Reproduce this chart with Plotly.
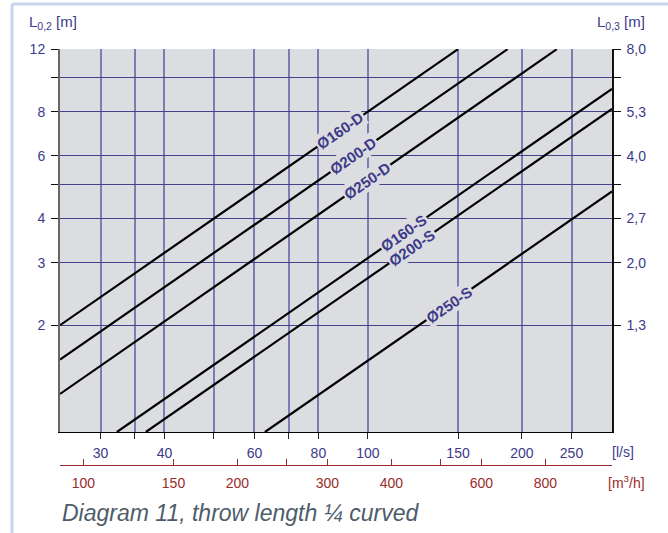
import math
import plotly.graph_objects as go

# ---- data ----
series_names = ["Ø160-D", "Ø200-D", "Ø250-D", "Ø160-S", "Ø200-S", "Ø250-S"]
flow_ls = [[25, 150], [25, 187.5], [25, 234], [32.3, 300], [36.8, 300], [62.9, 300]]
throw_m = [[2.0, 12], [1.6, 12], [1.28, 12], [1.0, 9.28], [1.0, 8.15], [1.0, 4.77]]
label_flow = [88.3, 93.8, 99.9, 117.8, 122, 144.3]
label_throw = [7.06, 6.0, 5.11, 3.64, 3.31, 2.29]

x_ticks_ls = [30, 35, 40, 50, 60, 70, 80, 100, 150, 200, 250]
x_text_ls = ["30", " ", "40", " ", "60", " ", "80", "100", "150", "200", "250"]
x_ticks_m3h = [100, 150, 200, 250, 300, 400, 500, 600, 800]
x_text_m3h = ["100", "150", "200", " ", "300", "400", " ", "600", "800"]
y_ticks = [2, 3, 4, 5, 6, 8, 10, 12]
y_text_left = ["2", "3", "4", " ", "6", "8", " ", "12"]
y_text_right = ["1,3", "2,0", "2,7", " ", "4,0", "5,3", " ", "8,0"]

x_min_ls, x_max_ls = 25, 300
y_min, y_max = 1, 12

NAVY = "#3d3a8a"
RED = "#9a2b2b"
BG = "#dcdde0"
FONT = "Liberation Sans, Arial"

fig = go.Figure()
for name, xs, ys in zip(series_names, flow_ls, throw_m):
    fig.add_trace(go.Scatter(x=xs, y=ys, mode="lines", name=name,
                             line=dict(color="black", width=2.2),
                             showlegend=False, hoverinfo="skip"))

# dummy trace for right axis
fig.add_trace(go.Scatter(x=[x_min_ls], y=[y_min], yaxis="y2", mode="markers",
                         marker=dict(opacity=0), showlegend=False, hoverinfo="skip"))
# dummy trace for m3/h axis
fig.add_trace(go.Scatter(x=[x_min_ls * 3.6], y=[y_min], xaxis="x2", mode="markers",
                         marker=dict(opacity=0), showlegend=False, hoverinfo="skip"))

tickfont = dict(family=FONT, size=14, color=NAVY)

fig.update_layout(
    width=668, height=533,
    margin=dict(l=60, r=56, t=49, b=40, autoexpand=False),
    paper_bgcolor="white",
    plot_bgcolor=BG,
    xaxis=dict(type="log", range=[math.log10(x_min_ls), math.log10(x_max_ls)],
               tickvals=x_ticks_ls, ticktext=x_text_ls, tickfont=tickfont,
               showgrid=True, gridcolor="#7d7bb3", gridwidth=1.5,
               showline=True, linecolor="black", linewidth=1.2,
               ticks="outside", ticklen=6, tickcolor="#222", tickwidth=1,
               ticklabelstandoff=2, zeroline=False, automargin=False),
    xaxis2=dict(type="log", overlaying="x", anchor="free", position=0.0624, side="bottom",
                range=[math.log10(x_min_ls * 3.6), math.log10(x_max_ls * 3.6)],
                tickvals=x_ticks_m3h, ticktext=x_text_m3h,
                tickfont=dict(family=FONT, size=14, color=RED),
                showgrid=False, showline=True, linecolor=RED, linewidth=1.2,
                ticks="inside", ticklen=6, tickcolor=RED, tickwidth=1,
                ticklabelstandoff=5, zeroline=False, automargin=False),
    yaxis=dict(type="log", domain=[0.1374, 1],
               range=[math.log10(y_min), math.log10(y_max) + 0.0006],
               tickvals=y_ticks, ticktext=y_text_left, tickfont=tickfont,
               showgrid=True, gridcolor="#45428a", gridwidth=1,
               showline=True, linecolor="#666", linewidth=2,
               ticks="outside", ticklen=7, tickcolor="#111", tickwidth=1,
               ticklabelstandoff=3, zeroline=False, automargin=False),
    yaxis2=dict(type="log", overlaying="y", side="right", anchor="x",
                range=[math.log10(y_min), math.log10(y_max) + 0.0006],
                tickvals=y_ticks, ticktext=y_text_right, tickfont=tickfont,
                showgrid=False, showline=True, linecolor="#111", linewidth=1.5,
                ticks="outside", ticklen=7, tickcolor="#111", tickwidth=1,
                ticklabelstandoff=3, zeroline=False, automargin=False),
)

ann = []
for name, qx, ly in zip(series_names, label_flow, label_throw):
    ann.append(dict(x=math.log10(qx), y=math.log10(ly), xref="x", yref="y",
                    text="<b>" + name + "</b>", showarrow=False, textangle=-34.8,
                    font=dict(family=FONT, size=15, color=NAVY),
                    bgcolor=BG, borderpad=1))


def px(xp):
    return (xp - 60) / 552.0


def py(yp):
    return (493 - yp) / 444.0


ann += [
    dict(x=px(27), y=py(22), xref="paper", yref="paper", xanchor="left", yanchor="middle",
         text="L<sub>0,2</sub> [m]", showarrow=False,
         font=dict(family=FONT, size=15, color=NAVY)),
    dict(x=px(647), y=py(22), xref="paper", yref="paper", xanchor="right", yanchor="middle",
         text="L<sub>0,3</sub> [m]", showarrow=False,
         font=dict(family=FONT, size=15, color=NAVY)),
    dict(x=px(610), y=py(452), xref="paper", yref="paper", xanchor="left", yanchor="middle",
         text="[l/s]", showarrow=False,
         font=dict(family=FONT, size=14, color=NAVY)),
    dict(x=px(606), y=py(482), xref="paper", yref="paper", xanchor="left", yanchor="middle",
         text="[m<sup>3</sup>/h]", showarrow=False,
         font=dict(family=FONT, size=14, color=RED)),
    dict(x=px(60), y=py(513), xref="paper", yref="paper", xanchor="left", yanchor="middle",
         text="<i>Diagram 11, throw length ¼ curved</i>", showarrow=False,
         font=dict(family=FONT, size=23, color="#4e5c6a")),
]
fig.update_layout(annotations=ann)

# light blue frame
fig.add_shape(type="line", xref="paper", yref="paper", x0=px(12), x1=px(12), y0=py(533), y1=py(4),
              line=dict(color="#c9d5ef", width=3), layer="below")
fig.add_shape(type="line", xref="paper", yref="paper", x0=px(12), x1=px(668), y0=py(4), y1=py(4),
              line=dict(color="#c9d5ef", width=3), layer="below")

fig.write_html("out.html", config={"displayModeBar": False},
               post_script="document.body.style.margin='0';document.body.style.overflow='hidden';")
